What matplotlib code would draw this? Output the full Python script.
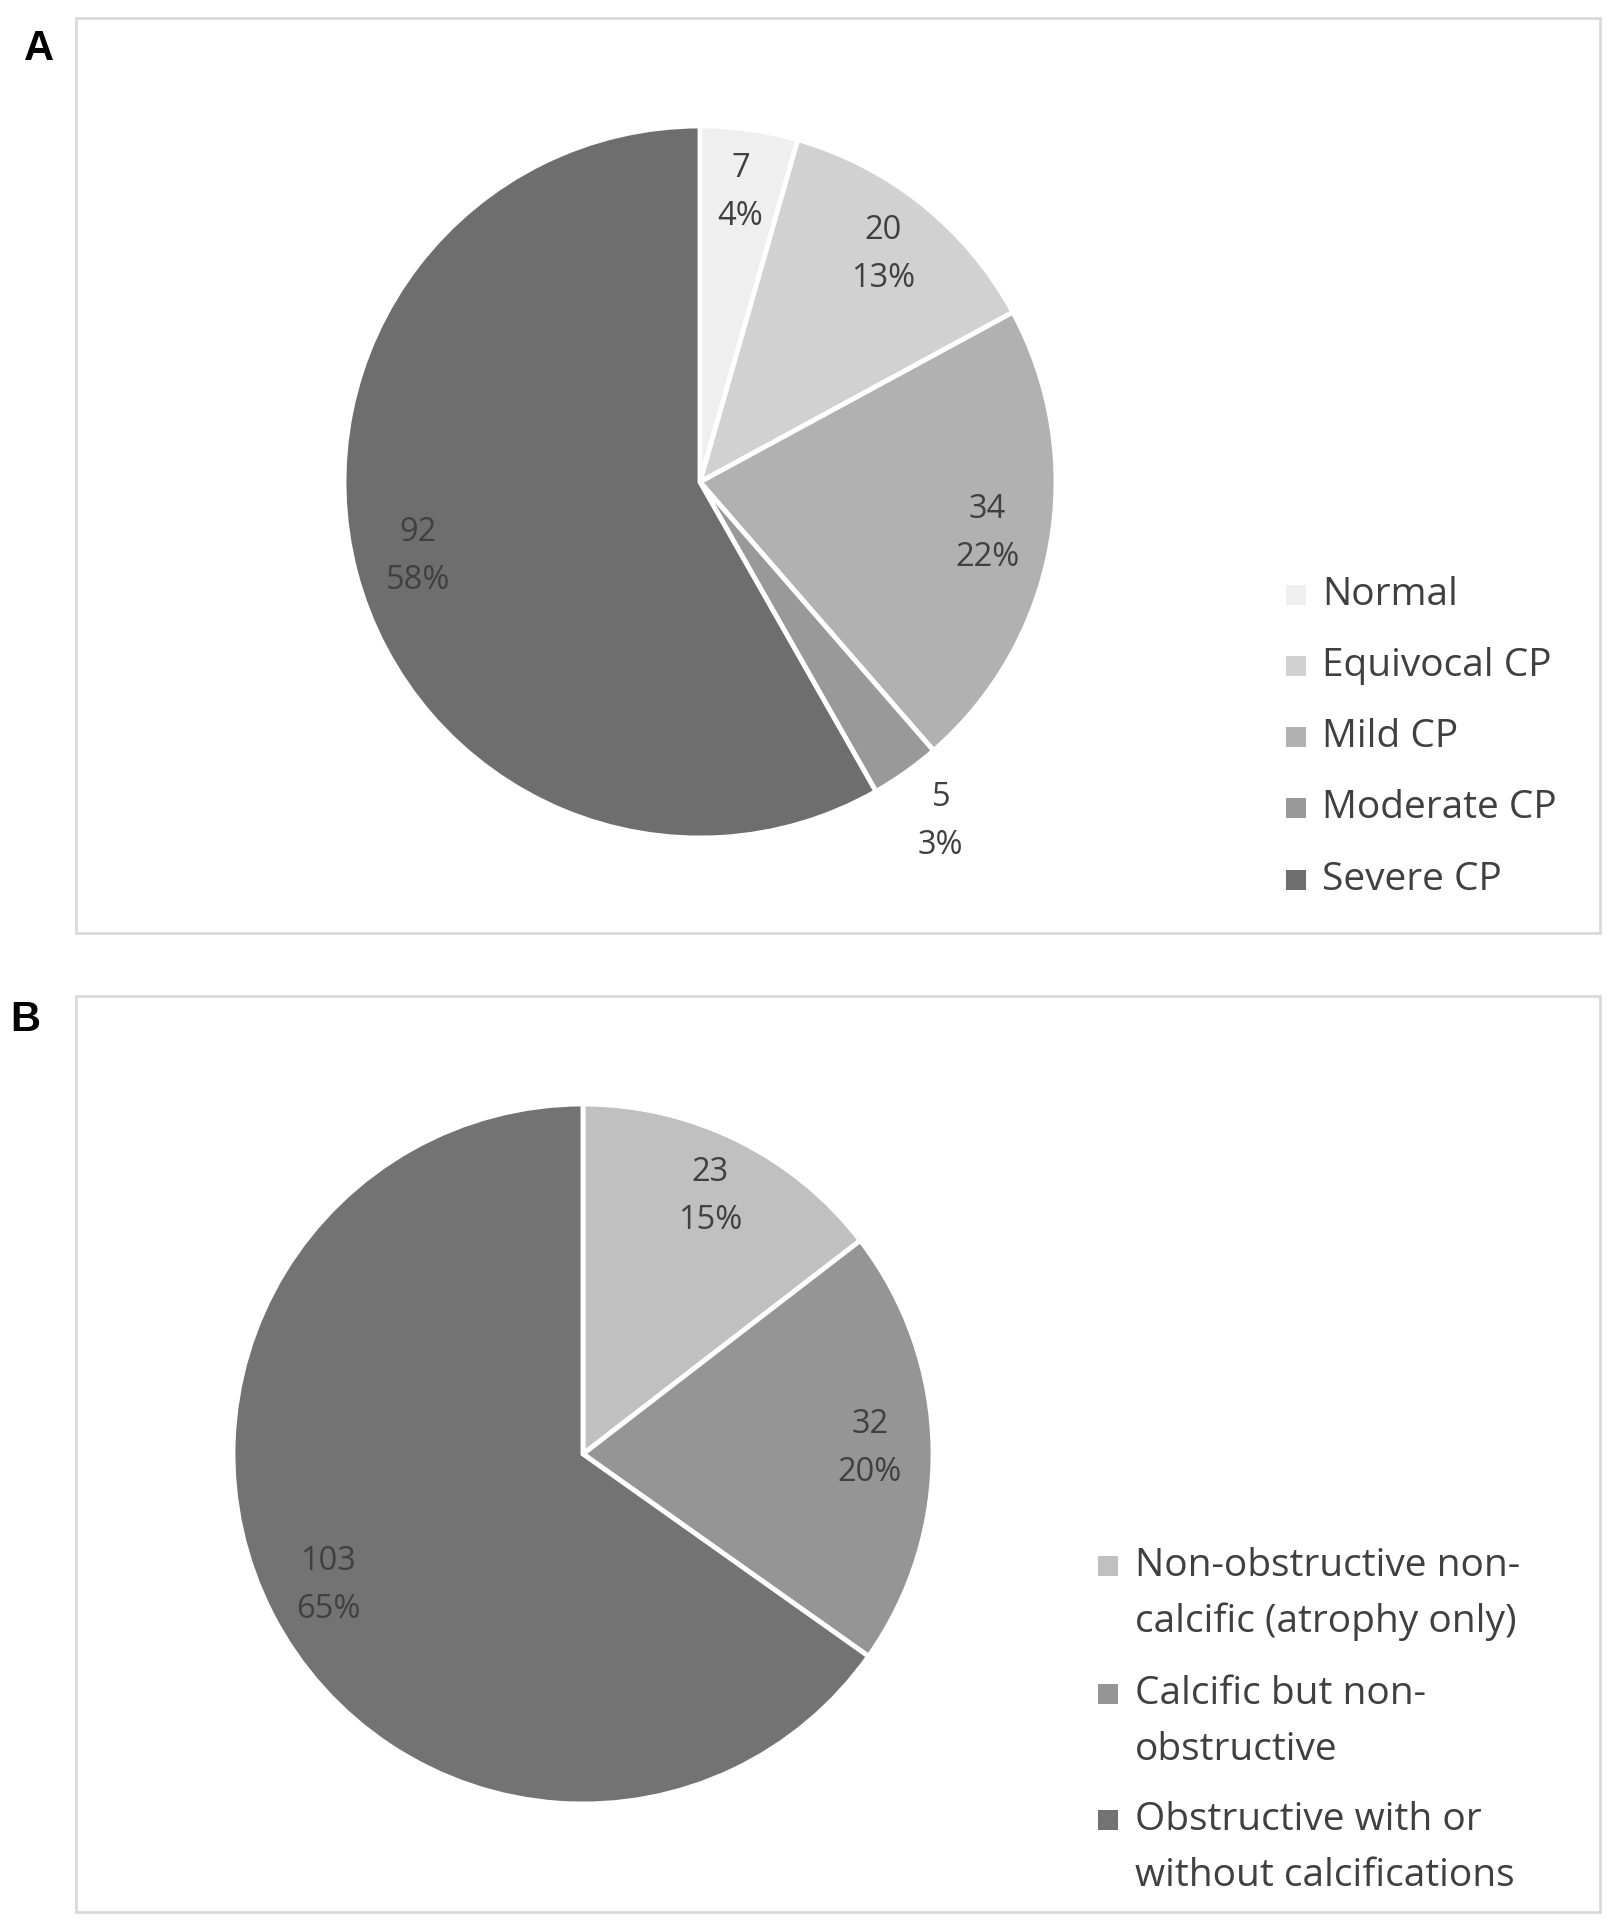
import matplotlib
matplotlib.use("Agg")
import matplotlib.pyplot as plt
from matplotlib.patches import Rectangle
import numpy as np

# panel A data
cats_a = ["Normal", "Equivocal CP", "Mild CP", "Moderate CP", "Severe CP"]
vals_a = [7, 20, 34, 5, 92]
cols_a = ["#efefef", "#d1d1d1", "#b1b1b1", "#999999", "#6e6e6e"]

# panel B data
cats_b = ["Non-obstructive non-\ncalcific (atrophy only)",
          "Calcific but non-\nobstructive",
          "Obstructive with or\nwithout calcifications"]
vals_b = [23, 32, 103]
cols_b = ["#c0c0c0", "#959595", "#737373"]

W, H = 1611, 1920
plt.rcParams["font.family"] = ["Open Sans", "DejaVu Sans"]
txt_col = "#404040"

fig = plt.figure(figsize=(W / 100, H / 100), dpi=100)


def px_axes(cx, cy, r):
    # square axes around a pie centre given in pixels (origin top-left)
    return fig.add_axes([(cx - r) / W, (H - cy - r) / H, 2 * r / W, 2 * r / H])


def draw_pie(ax, vals, cols):
    wedges, _ = ax.pie(vals, colors=cols, startangle=90, counterclock=False,
                       radius=1, wedgeprops=dict(edgecolor="white", linewidth=3.5))
    tot = sum(vals)
    for w, v in zip(wedges, vals):
        th = np.deg2rad((w.theta1 + w.theta2) / 2)
        d = 1.17 if v / tot < 0.04 else 0.82
        ax.text(d * np.cos(th), d * np.sin(th), f"{v}\n{round(100 * v / tot)}%",
                ha="center", va="center", fontsize=23.5, color=txt_col,
                linespacing=1.6)
    ax.set_xlim(-1, 1)
    ax.set_ylim(-1, 1)
    ax.set_aspect("equal")
    ax.axis("off")


def draw_legend(x_box, x_txt, rows, cats, cols, step):
    for cat, col, y in zip(cats, cols, rows):
        fig.add_artist(Rectangle(((x_box - 10) / W, (H - y - 10) / H), 20 / W, 20 / H,
                                 transform=fig.transFigure, color=col, lw=0))
        for i, ln in enumerate(cat.split("\n")):
            fig.text(x_txt / W, (H - y - i * step) / H, ln, ha="left", va="center",
                     fontsize=28, color=txt_col)


# panel frames
for y0, y1 in [(18, 933), (996, 1912)]:
    fig.add_artist(Rectangle((76 / W, (H - y1) / H), (1600 - 76) / W, (y1 - y0) / H,
                             transform=fig.transFigure, fill=False,
                             ec="#d9d9d9", lw=2))

fig.text(39 / W, (H - 49) / H, "A", ha="center", va="center", fontsize=30,
         fontweight="bold", family="Liberation Sans")
fig.text(25 / W, (H - 1020) / H, "B", ha="center", va="center", fontsize=30,
         fontweight="bold", family="Liberation Sans")

ax_a = px_axes(700, 482, 356)
draw_pie(ax_a, vals_a, cols_a)
draw_legend(1296, 1322, [595, 666, 737, 808, 880], cats_a, cols_a, 0)

ax_b = px_axes(583, 1454, 350)
draw_pie(ax_b, vals_b, cols_b)
draw_legend(1108, 1135, [1566, 1694, 1820], cats_b, cols_b, 56)

fig.savefig("out.png", dpi=100)
